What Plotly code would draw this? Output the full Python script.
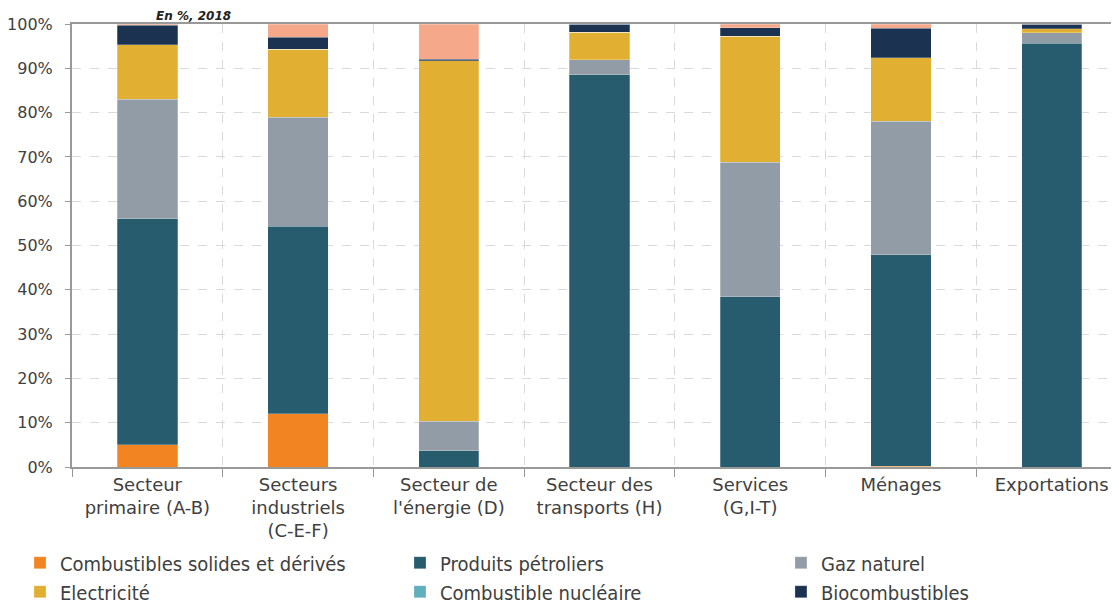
import plotly.graph_objects as go

CATEGORIES = [
    "Secteur<br>primaire (A-B)",
    "Secteurs<br>industriels<br>(C-E-F)",
    "Secteur de<br>l'énergie (D)",
    "Secteur des<br>transports (H)",
    "Services<br>(G,I-T)",
    "Ménages",
    "Exportations",
]

SOLIDES = [5.0, 12.0, 0.0, 0.0, 0.0, 0.2, 0.0]
PETROLE = [51.0, 42.4, 3.7, 88.5, 38.4, 47.7, 95.7]
GAZ = [27.0, 24.6, 6.6, 3.4, 30.4, 30.1, 2.3]
ELEC = [12.3, 15.3, 81.4, 6.2, 28.4, 14.4, 0.9]
NUCLEAIRE = [0.0, 0.0, 0.0, 0.0, 0.0, 0.0, 0.0]
BIO = [4.4, 2.7, 0.3, 1.9, 2.0, 6.6, 1.1]
AUTRES = [0.3, 3.0, 8.0, 0.0, 0.8, 1.0, 0.0]

# name, values, colour, legend (None = hidden)
SERIES = [
    ("Combustibles solides et dérivés", SOLIDES, "#f28522", "legend"),
    ("Produits pétroliers", PETROLE, "#275b6e", "legend2"),
    ("Gaz naturel", GAZ, "#929ca7", "legend3"),
    ("Electricité", ELEC, "#e1b032", "legend"),
    ("Combustible nucléaire", NUCLEAIRE, "#5fb0bc", "legend2"),
    ("Biocombustibles", BIO, "#1b3350", "legend3"),
    ("Autres", AUTRES, "#f5a98a", None),
]

TEXT = "#404040"
FONT = "DejaVu Sans"
LEG_FONT = "DejaVu Sans Condensed"

fig = go.Figure()
for name, vals, color, leg in SERIES:
    fig.add_trace(go.Bar(
        x=CATEGORIES, y=vals, name=name,
        marker=dict(color=color, line=dict(color="rgba(255,255,255,0.5)", width=0.5)),
        showlegend=leg is not None,
        legend=leg or "legend",
        width=0.4,
    ))

fig.add_annotation(
    text="<b><i>En %, 2018</i></b>", x=0.0787, xref="paper", y=1.0, yref="paper",
    xanchor="left", yanchor="bottom", yshift=0, borderpad=0, showarrow=False,
    font=dict(family=FONT, size=12, color="#222222"),
)

legend_style = dict(
    orientation="v", traceorder="normal", xanchor="left", y=-0.172, yanchor="top",
    font=dict(family=LEG_FONT, size=20, color=TEXT),
    tracegroupgap=0, bgcolor="rgba(0,0,0,0)",
)

# the page adds an 8px body margin, so the figure margins are 8px smaller
fig.update_layout(
    barmode="stack",
    width=1119, height=605,
    paper_bgcolor="white", plot_bgcolor="white",
    font=dict(family=FONT, size=18, color=TEXT),
    margin=dict(l=64, r=0, t=16, b=146, autoexpand=False),
    legend=dict(x=-0.0493, **legend_style),
    legend2=dict(x=0.3109, **legend_style),
    legend3=dict(x=0.672, **legend_style),
    xaxis=dict(
        tickson="boundaries", ticks="outside", ticklen=8, tickcolor="#999999",
        showgrid=True, gridcolor="#d9d9d9", griddash="dash", gridwidth=1,
        showline=True, linecolor="#999999", linewidth=2,
        tickfont=dict(family=FONT, size=18, color=TEXT),
        mirror=True, automargin=False,
    ),
    yaxis=dict(
        range=[0, 100], dtick=10, ticksuffix="%",
        showgrid=True, gridcolor="#d9d9d9", griddash="dash", gridwidth=1,
        showline=True, linecolor="#999999", linewidth=2,
        ticks="outside", ticklen=5, tickcolor="#999999", ticklabelstandoff=9,
        tickfont=dict(family=FONT, size=16, color=TEXT),
        zeroline=False, automargin=False,
    ),
)

fig.write_html("out.html")
